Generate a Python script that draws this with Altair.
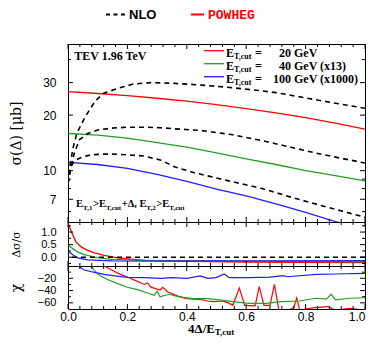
import altair as alt
import pandas as pd

# ---------------- data ----------------
SERIES = ["20", "40", "100"]

# POWHEG sigma(Delta) [mub]
POW_X = [0.0, 0.1, 0.2, 0.3, 0.4, 0.5, 0.6, 0.7, 0.8, 0.9, 1.0]
POW_20 = [26.8, 26.2, 25.5, 24.7, 23.8, 22.8, 21.7, 20.6, 19.4, 18.1, 16.8]
POW_40 = [15.9, 15.6, 15.0, 14.2, 13.4, 12.5, 11.6, 10.8, 10.0, 9.4, 8.8]
POW_100 = [11.1, 10.8, 10.3, 9.55, 8.75, 7.95, 7.3, 6.6, 5.95, 5.3, 4.8]

# NLO (dashed)
NLO20_X = [0.0, 0.008, 0.018, 0.03, 0.055, 0.09, 0.12, 0.17, 0.22, 0.28, 0.35, 0.45, 0.55, 0.65, 0.7, 0.8, 0.9, 1.0]
NLO20_Y = [8.5, 11.0, 13.5, 16.0, 19.2, 23.7, 26.3, 28.0, 29.5, 30.0, 29.8, 29.1, 28.2, 27.1, 26.5, 24.8, 23.2, 21.8]
NLO40_X = [0.0, 0.01, 0.021, 0.038, 0.066, 0.1, 0.145, 0.2, 0.26, 0.31, 0.35, 0.45, 0.55, 0.65, 0.75, 0.85, 1.0]
NLO40_Y = [8.5, 10.5, 12.4, 14.7, 15.9, 16.6, 17.0, 17.2, 17.2, 17.1, 16.9, 16.5, 15.7, 14.6, 13.4, 12.3, 11.0]
NLO100_X = [0.0, 0.008, 0.02, 0.05, 0.08, 0.12, 0.15, 0.2, 0.257, 0.313, 0.358, 0.425, 0.538, 0.65, 0.762, 0.874, 1.0]
NLO100_Y = [8.5, 10.3, 11.3, 11.9, 12.2, 12.3, 12.3, 12.2, 12.0, 11.4, 10.5, 9.75, 8.83, 8.03, 7.1, 6.33, 5.6]

# Delta sigma / sigma
R20_X = [0.0, 0.016, 0.027, 0.044, 0.066, 0.089, 0.122, 0.167, 0.257, 0.42, 0.6, 0.8, 1.0]
R20_Y = [1.35, 0.88, 0.61, 0.41, 0.27, 0.17, 0.07, -0.03, -0.13, -0.17, -0.19, -0.2, -0.21]
R40_X = [0.0, 0.016, 0.033, 0.055, 0.089, 0.145, 0.257, 0.42, 0.6, 0.8, 1.0]
R40_Y = [0.5, 0.34, 0.2, 0.1, 0.0, -0.09, -0.13, -0.15, -0.16, -0.17, -0.18]
R100_X = [0.0, 0.016, 0.033, 0.066, 0.15, 0.3, 0.5, 0.7, 1.0]
R100_Y = [0.25, 0.1, -0.03, -0.11, -0.15, -0.16, -0.15, -0.15, -0.14]

# chi
C20_X = [0.10, 0.122, 0.145, 0.178, 0.20, 0.234, 0.257, 0.268, 0.278, 0.29, 0.31, 0.319, 0.335, 0.37, 0.40,
         0.45, 0.47, 0.49, 0.52, 0.54, 0.555, 0.577, 0.595, 0.63, 0.644, 0.66, 0.68, 0.695, 0.71, 0.74, 0.76,
         0.77, 0.78, 0.83, 0.875, 0.90, 0.95, 1.0]
C20_Y = [10, 0, -6, -14, -18, -25, -30, -27.6, -34, -36, -39, -34.6, -42, -49, -53,
         -54.6, -57, -58, -57, -60, -64, -36, -64, -65, -33.5, -64, -64, -29.8, -72, -72, -68,
         -52, -72, -67.7, -66, -72, -69, -72]
C40_X = [0.06, 0.077, 0.089, 0.111, 0.133, 0.167, 0.2, 0.234, 0.268, 0.29, 0.3, 0.31, 0.34, 0.37, 0.42,
         0.47, 0.51, 0.555, 0.61, 0.667, 0.72, 0.78, 0.835, 0.87, 0.886, 0.9, 0.95, 1.0]
C40_Y = [8, 0, -7.5, -16.8, -22, -28.6, -34.6, -38.4, -44, -47.6, -41, -50, -46, -50, -53,
         -53, -55, -58, -60.7, -60.7, -58, -57, -52.5, -54, -46, -55, -52.5, -51.7]
C100_X = [0.0, 0.033, 0.055, 0.089, 0.122, 0.156, 0.2, 0.257, 0.313, 0.35, 0.4, 0.445, 0.47, 0.498,
          0.526, 0.543, 0.61, 0.68, 0.723, 0.74, 0.835, 0.9, 1.0]
C100_Y = [8, 0, -6.5, -10.3, -13.5, -16.2, -18.4, -19, -20.3, -19, -20, -16, -20, -18.9,
          -13, -19, -19, -18, -15.7, -17.5, -13.5, -13, -11.9]

# axis tick values
X_MAJOR = [0.0, 0.2, 0.4, 0.6, 0.8, 1.0]
X_MINOR = [0.04, 0.08, 0.12, 0.16, 0.24, 0.28, 0.32, 0.36, 0.44, 0.48, 0.52, 0.56,
           0.64, 0.68, 0.72, 0.76, 0.84, 0.88, 0.92, 0.96]
M_MAJOR = [7, 10, 20, 30]
M_MINOR = [6, 8, 9, 40]
R_MAJOR = [0.0, 0.5, 1.0]
R_MINOR = [-0.25, 0.25, 0.75, 1.25]
C_MAJOR = [-20, -40, -60]
C_MINOR = [-10, -30, -50]

# ---------------- styling / layout ----------------
RED, GREEN, BLUE = "#ff0000", "#22a022", "#1e1eff"
W = 297
H1, H2, H3 = 178, 44, 43
XS = alt.Scale(domain=[0, 1], nice=False, zero=False)
YS1 = alt.Scale(type="log", domain=[5.27, 48.6], nice=False)
YS2 = alt.Scale(domain=[-0.35, 1.4], nice=False, zero=False)
YS3 = alt.Scale(domain=[-70, 0], nice=False, zero=False)
COLOR = alt.Color("s:N", scale=alt.Scale(domain=SERIES, range=[RED, GREEN, BLUE]), legend=None)

# approximate advance widths (em) of Liberation Serif Bold, used to place sub-scripted pieces
EM = {"E": 0.667, "T": 0.667, ",": 0.25, "1": 0.5, "2": 0.5, "c": 0.444, "u": 0.556, "t": 0.333,
      ">": 0.57, "+": 0.57, "Δ": 0.612, " ": 0.25, "/": 0.278, "4": 0.5}


def text_w(t, size):
    return sum(EM.get(ch, 0.5) for ch in t) * size


def long_df(items):
    rows = []
    for s, xs, ys in items:
        rows += [{"x": a, "y": b, "s": s} for a, b in zip(xs, ys)]
    return pd.DataFrame(rows)


def y_axis(values, fmt, title, h, tfont, tsize, lsize=12):
    return alt.Axis(values=values, format=fmt, orient="left", ticks=False, tickSize=0, domain=False, grid=False,
                    labelPadding=12, labelFlush=False, labelOverlap=False,
                    labelFont="Liberation Sans", labelFontSize=lsize, labelColor="black",
                    title=title, titleX=-52, titleY=h / 2, titleAngle=270,
                    titleAlign="center", titleBaseline="middle",
                    titleFont=tfont, titleFontSize=tsize, titleFontWeight="normal", titleColor="black")


def label(txt, x, y, size=12, font="Liberation Serif", weight="bold", color="black", align="left"):
    return alt.Chart(pd.DataFrame({"t": [txt]})).mark_text(
        align=align, baseline="middle", font=font, fontSize=size, fontWeight=weight, color=color
    ).encode(x=alt.value(x), y=alt.value(y), text="t:N")


def ticks(h, ys, ymaj, ymin, lmaj=5, lmin=3):
    out = []
    for vals, L in ((X_MAJOR, lmaj), (X_MINOR, lmin)):
        df = pd.DataFrame({"v": vals})
        ex = alt.X("v:Q", scale=XS, axis=None)
        out.append(alt.Chart(df).mark_rule(color="black", strokeWidth=1).encode(
            x=ex, y=alt.value(h), y2=alt.value(h - L)))
        out.append(alt.Chart(df).mark_rule(color="black", strokeWidth=1).encode(
            x=ex, y=alt.value(0), y2=alt.value(L)))
    for vals, L in ((ymaj, lmaj), (ymin, lmin)):
        df = pd.DataFrame({"v": vals})
        ey = alt.Y("v:Q", scale=ys, axis=None)
        out.append(alt.Chart(df).mark_rule(color="black", strokeWidth=1).encode(
            y=ey, x=alt.value(0), x2=alt.value(L)))
        out.append(alt.Chart(df).mark_rule(color="black", strokeWidth=1).encode(
            y=ey, x=alt.value(W - L), x2=alt.value(W)))
    return out


def sub_text(parts, x0, y, size, subsize, suboff=3.5):
    """parts: list of (text, is_sub); laid out left to right from x0"""
    out = []
    x = x0
    for t, is_sub in parts:
        sz = subsize if is_sub else size
        out.append(label(t, x, y + (suboff if is_sub else 0), size=sz))
        x += text_w(t, sz)
    return out


# ---------------- main panel ----------------
pow_df = long_df([("20", POW_X, POW_20), ("40", POW_X, POW_40), ("100", POW_X, POW_100)])
nlo_df = long_df([("20", NLO20_X, NLO20_Y), ("40", NLO40_X, NLO40_Y), ("100", NLO100_X, NLO100_Y)])

main_layers = [
    alt.Chart(pow_df).mark_line(clip=True, strokeWidth=1.3).encode(
        x=alt.X("x:Q", scale=XS, axis=None),
        y=alt.Y("y:Q", scale=YS1, axis=y_axis(M_MAJOR, "d", "σ(Δ) [μb]", H1, "DejaVu Serif", 14)),
        color=COLOR),
    alt.Chart(nlo_df).mark_line(clip=True, color="black", strokeWidth=1.6, strokeDash=[5, 4]).encode(
        x=alt.X("x:Q", scale=XS, axis=None),
        y=alt.Y("y:Q", scale=YS1, axis=None),
        detail="s:N"),
]
main_layers += ticks(H1, YS1, M_MAJOR, M_MINOR)

# in-plot legend
LEG_ROWS = [("20", RED, "20", ""), ("40", GREEN, "40", "(x13)"), ("100", BLUE, "100", "(x1000)")]
for i, (s, col, num, suffix) in enumerate(LEG_ROWS):
    ly = 6.7 + 13 * i
    ty = 9.3 + 13 * i
    main_layers.append(alt.Chart(pd.DataFrame({"s": [s]})).mark_rule(color=col, strokeWidth=1.3).encode(
        x=alt.value(136), x2=alt.value(156), y=alt.value(ly)))
    main_layers.append(label("E", 158, ty, size=12))
    main_layers.append(label("T,cut", 166, ty + 4, size=8))
    main_layers.append(label("=", 187, ty, size=12))
    main_layers.append(label(num, 223, ty, size=12, align="right"))
    main_layers.append(label("GeV", 226, ty, size=12))
    if suffix:
        main_layers.append(label(suffix, 252, ty, size=12))

main_layers.append(label("TEV 1.96 TeV", 6.3, 11.5, size=12))
main_layers += sub_text([("E", False), ("T,1", True), (">E", False), ("T,cut", True), ("+Δ, E", False),
                         ("T,2", True), (">E", False), ("T,cut", True)],
                        8, 160, 10.5, 7)

# top legend (above the plot)
TOP_Y = -29.5
main_layers.append(alt.Chart(pd.DataFrame({"s": ["NLO"]})).mark_rule(
    color="black", strokeWidth=2, strokeDash=[4, 3.5]).encode(
    x=alt.value(38), x2=alt.value(57), y=alt.value(TOP_Y)))
main_layers.append(label("NLO", 61, TOP_Y, size=13, font="Liberation Sans"))
main_layers.append(alt.Chart(pd.DataFrame({"s": ["POWHEG"]})).mark_rule(
    color=RED, strokeWidth=2).encode(x=alt.value(123), x2=alt.value(136), y=alt.value(TOP_Y)))
main_layers.append(label("POWHEG", 140, TOP_Y + 0.5, size=13, font="Liberation Mono", color=RED))

main = alt.layer(*main_layers).resolve_axis(x="independent", y="independent").properties(width=W, height=H1)

# ---------------- ratio panel ----------------
rat_df = long_df([("20", R20_X, R20_Y), ("40", R40_X, R40_Y), ("100", R100_X, R100_Y)])
rat_layers = [
    alt.Chart(rat_df).mark_line(clip=True, strokeWidth=1.3).encode(
        x=alt.X("x:Q", scale=XS, axis=None),
        y=alt.Y("y:Q", scale=YS2, axis=y_axis(R_MAJOR, ".1f", "Δσ/σ", H2, "DejaVu Serif", 11, lsize=11)),
        color=COLOR),
    alt.Chart(pd.DataFrame({"v": [0.0]})).mark_rule(color="black", strokeWidth=1.6, strokeDash=[5, 4]).encode(
        y=alt.Y("v:Q", scale=YS2, axis=None)),
]
rat_layers += ticks(H2, YS2, R_MAJOR, R_MINOR)
ratio = alt.layer(*rat_layers).resolve_axis(x="independent", y="independent").properties(width=W, height=H2)

# ---------------- chi panel ----------------
chi_df = long_df([("20", C20_X, C20_Y), ("40", C40_X, C40_Y), ("100", C100_X, C100_Y)])
chi_layers = [
    alt.Chart(chi_df).mark_line(clip=True, strokeWidth=1.2).encode(
        x=alt.X("x:Q", scale=XS, axis=alt.Axis(values=X_MAJOR, format=".1f", orient="bottom", ticks=False,
                                               tickSize=0, domain=False, grid=False, labelPadding=2,
                                               labelFlush=False, labelOverlap=False,
                                               labelAlign=alt.expr("datum.value >= 1 ? 'right' : 'center'"),
                                               labelFont="Liberation Sans", labelFontSize=12,
                                               labelColor="black", title=None)),
        y=alt.Y("y:Q", scale=YS3, axis=y_axis(C_MAJOR, "d", "χ", H3, "DejaVu Serif", 14, lsize=11)),
        color=COLOR),
]
chi_layers += ticks(H3, YS3, C_MAJOR, C_MINOR)
chi_layers += sub_text([("4Δ/E", False), ("T,cut", True)], 120, 63, 13, 9, suboff=2.5)
chi = alt.layer(*chi_layers).resolve_axis(x="independent", y="independent").properties(width=W, height=H3)

chart = alt.vconcat(main, ratio, chi, spacing=0, bounds="flush").resolve_scale(
    y="independent"
).properties(
    padding={"left": 0, "top": 0, "right": 0, "bottom": 0}
).configure(background="white").configure_view(stroke="black", strokeWidth=1)

chart.save("out.html", embed_options={"renderer": "svg", "actions": False})
